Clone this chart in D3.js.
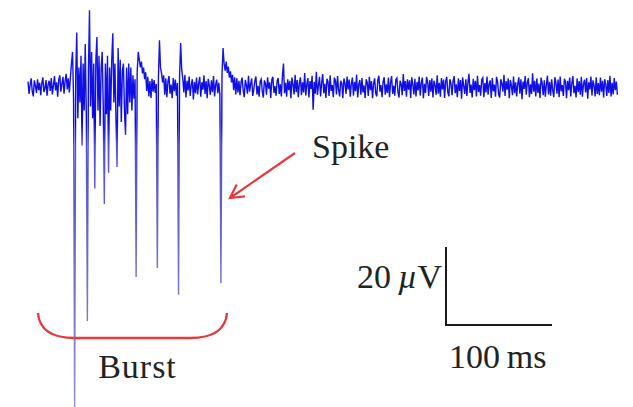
<!DOCTYPE html>
<html>
<head>
<meta charset="utf-8">
<script src="https://cdn.jsdelivr.net/npm/d3@7"></script>
<style>
  body { margin: 0; background: #fff; }
  svg { display: block; }
</style>
</head>
<body>
<svg class="chart" width="633" height="407"></svg>
<script>
const stepMs = 1;
const trace = [
  // 0-39 ms
  1.4,-1.8,0.6,2.2,-1.1,-2.4,1.7,0.3,-1.5,2.0,-0.8,1.1,-2.1,0.9,2.5,-1.3,-0.4,1.8,-2.2,0.7,
  1.6,-1.0,2.3,-1.9,0.4,2.8,-0.9,1.2,-2.5,1.9,3.0,-1.2,0.8,2.6,-1.7,1.5,3.4,-0.6,2.2,-1.4,
  // 40-199 ms: burst
  2.5,6,9,-3,-85,3,14,-8,5,-4,8,-15,6,-6,11,-7,-60,4,19.7,-5,
  9,-8,6,-26,7,12.8,-6,8,-10,5,9,-5,-30,6,-7,8,-22,5,-6,7,
  13.8,-4,6,-8,-20.5,10,-5,7,-9,4,6,-6,-12.3,5,-7,6,-4,5,-6,3,
  -3,2,-48.7,4,9,7,5,6.5,3.5,5,2,3.8,-1,2.6,-2.4,1.5,-2.8,2.1,-1.2,1.8,
  -1.5,0.8,-46.4,2,12,5,3.5,1.2,3,-2,2.2,-2.6,1.4,2.8,-1.7,0.6,-2.9,2.3,-1.1,1.9,
  -2.2,1.0,-53.3,3,11.3,4.5,2.2,-1.4,3.1,-2.7,1.6,-0.9,2.7,-2.3,0.5,2.0,-3.2,1.3,-1.6,2.4,
  -1.9,0.9,2.6,-2.5,1.2,-0.7,3.0,-1.8,1.5,-2.9,2.1,0.4,-2.0,1.7,-1.3,2.8,-2.4,0.6,1.9,-1.6,
  1.1,-2.0,-50.3,3,10,6,4.2,6.5,3.6,5.2,2.4,4.0,1.2,3.1,-0.8,2.5,-1.9,2.2,-1.4,1.6,
  // 200-556 ms
  -2.1,1.3,2.4,-0.9,-2.6,1.8,0.5,-1.7,2.9,-1.2,0.8,2.2,-2.3,-0.6,1.6,2.7,-1.9,0.3,-2.5,1.4,
  2.0,-1.1,-2.7,1.7,0.9,-2.0,2.5,-0.4,1.2,-2.8,1.9,2.6,-1.5,0.2,-2.2,1.5,2.3,-1.8,0.7,-2.4,
  2.8,6.0,-1.6,1.1,-2.5,2.0,-0.8,1.6,-2.9,2.4,0.6,-1.9,3.1,-1.3,1.8,-2.6,0.9,2.5,-2.1,1.2,
  -1.4,3.6,-2.2,0.7,2.3,-2.7,1.5,-0.5,2.9,-5.8,1.3,-1.7,3.9,-2.0,0.4,2.6,-2.4,1.1,3.3,-1.6,
  0.8,-2.8,2.1,1.4,-2.3,3.0,-1.0,0.5,-2.6,2.4,1.7,-1.9,2.8,-0.7,-2.4,1.6,0.9,-2.9,2.2,1.0,
  -1.8,2.7,-0.6,1.9,-2.5,0.8,2.4,-2.2,1.3,-1.1,3.2,-2.7,0.6,1.8,-2.0,2.3,-1.4,0.4,-2.8,2.0,
  1.2,-2.3,2.6,-0.8,1.5,-2.9,0.9,2.2,-1.6,-2.4,1.8,2.9,-1.2,0.5,-2.6,1.4,2.5,-2.0,0.7,-1.5,
  2.4,-2.6,1.1,2.8,-1.8,0.3,-2.2,1.9,2.3,-1.4,-2.7,1.6,0.8,-2.1,3.3,-1.0,1.5,-2.5,2.0,-0.7,
  1.7,-2.8,2.5,0.6,-1.9,2.1,-2.4,1.3,-0.9,2.7,-2.2,1.0,2.4,-2.9,0.8,-1.5,2.6,1.2,-2.3,1.8,
  -1.2,2.2,-2.7,1.6,0.4,-2.0,3.0,-1.7,1.1,-2.5,2.3,-0.6,1.9,-2.8,1.4,2.6,-1.3,-2.4,2.0,0.9,
  -2.1,1.5,2.8,-1.6,0.7,-2.6,2.2,-1.0,1.8,-3.0,2.5,0.3,-1.8,2.0,-2.3,1.2,3.4,-1.5,0.6,-2.7,
  2.1,-0.8,1.6,-2.4,2.9,-1.3,0.5,-2.2,1.9,2.4,-2.6,1.0,-1.4,2.7,-2.0,0.8,1.7,-2.8,2.3,-1.1,
  0.6,-2.5,2.6,1.3,-1.9,-2.7,2.0,0.9,-1.2,3.1,-2.3,1.5,-0.7,2.2,-2.9,1.8,0.4,-2.1,2.7,-1.6,
  1.2,-2.4,0.8,2.5,-1.7,2.0,-3.1,1.4,-0.5,2.8,-2.0,1.1,2.3,-2.6,0.7,-1.8,3.5,-1.2,1.6,-2.4,
  2.2,-1.5,0.9,-2.8,2.4,1.0,-2.1,1.7,-2.5,0.6,2.9,-1.9,1.3,-2.2,2.0,-0.9,-2.6,2.5,1.1,-1.7,
  1.9,-2.6,2.7,-1.1,0.5,-2.3,2.1,1.4,-2.9,1.6,-0.8,2.4,-2.4,1.0,2.8,-1.6,0.3,-2.7,2.2,-1.3,
  1.5,-2.0,2.6,-2.5,0.8,1.9,-1.4,2.3,-3.0,1.2,-0.6,2.7,-2.2,1.7,0.4,-2.4,2.5,-1.8,1.0,-2.1,
  2.4,-1.2,1.6,-2.7,2.0,0.7,-2.3,1.8,-1.5,2.9,-2.4,1.1,-1.9,2.3,-0.8,1.4,-2.0
];
// scale bar sizes
const barMs = 100, barUv = 20;
// annotations: burst extent [ms], spike marked by the arrow [ms]
const burstRange = [9.4, 187.7];
const spikeAt = 183;
const annoLabels = ["Spike", "Burst"];

const svg = d3.select(".chart");
const x = d3.scaleLinear().domain([0, 556]).range([28, 617.4]);
const y = d3.scaleLinear().domain([0, 20]).range([87, 9]);
const font = "'Liberation Serif', 'DejaVu Serif', serif";

// stroke fades to a greyer blue far from the baseline, like the scan
const grad = svg.append("defs").append("linearGradient")
    .attr("id", "tr").attr("gradientUnits", "userSpaceOnUse")
    .attr("x1", 0).attr("x2", 0).attr("y1", 0).attr("y2", 407);
[[0, "#1c1cf0"], [0.3, "#0a0ae0"], [0.36, "#5050d4"], [1, "#9090cc"]]
  .forEach(s => grad.append("stop").attr("offset", s[0]).attr("stop-color", s[1]));

const line = d3.line()
    .x((d, i) => x(i * stepMs))
    .y(d => y(d));
svg.append("path")
    .datum(trace)
    .attr("d", line)
    .attr("fill", "none")
    .attr("stroke", "url(#tr)")
    .attr("stroke-width", 1.4)
    .attr("stroke-linejoin", "miter");

// scale bar
const bx = x(394.3), by = y(-61);
svg.append("path")
    .attr("d", `M${bx},${by - (y(0) - y(barUv))}V${by}H${bx + x(barMs) - x(0)}`)
    .attr("fill", "none").attr("stroke", "#1a1a1a").attr("stroke-width", 2);
svg.append("text")
    .attr("x", bx - 4).attr("y", 288)
    .attr("text-anchor", "end")
    .attr("font-family", font).attr("font-size", 34).attr("fill", "#222")
    .html(barUv + "\u2009<tspan font-style='italic'>µ</tspan>V");
svg.append("text")
    .attr("x", bx + 3).attr("y", 368)
    .attr("font-family", font).attr("font-size", 34).attr("fill", "#222")
    .text(barMs + "\u2009ms");

// burst bracket
const red = "#e33b3e";
const b0 = x(burstRange[0]), b1 = x(burstRange[1]);
svg.append("path")
    .attr("d", `M${b0},313 Q${b0 + 2},338 ${b0 + 37},338 L${b1 - 37},338 Q${b1 - 2},338 ${b1},313`)
    .attr("fill", "none").attr("stroke", red).attr("stroke-width", 2.4);
svg.append("text")
    .attr("x", (b0 + b1) / 2 + 5).attr("y", 378)
    .attr("text-anchor", "middle")
    .attr("font-family", font).attr("font-size", 34).attr("fill", "#222")
    .attr("letter-spacing", 1)
    .text(annoLabels[1]);

// spike arrow
const tip = [x(spikeAt) + 8, 198], tail = [295, 153];
const ang = Math.atan2(tail[1] - tip[1], tail[0] - tip[0]);
const barb = a => [tip[0] + 15 * Math.cos(ang + a), tip[1] + 15 * Math.sin(ang + a)];
const p1 = barb(0.5), p2 = barb(-0.5);
svg.append("path")
    .attr("d", `M${tail}L${tip}M${p1}L${tip}L${p2}`)
    .attr("fill", "none").attr("stroke", red).attr("stroke-width", 2.2);
svg.append("text")
    .attr("x", 312).attr("y", 158)
    .attr("font-family", font).attr("font-size", 34).attr("fill", "#222")
    .text(annoLabels[0]);
</script>
</body>
</html>
